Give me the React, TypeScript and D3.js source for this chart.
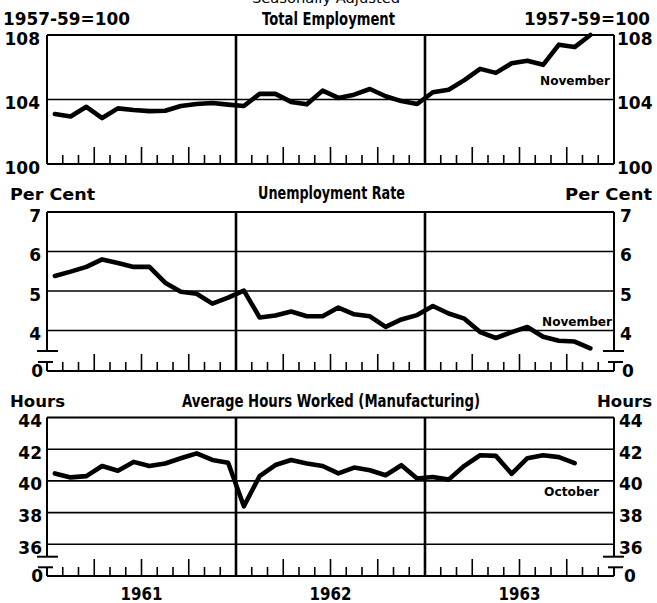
import React from "react";
import * as d3 from "d3";

const years = ["1961", "1962", "1963"];

// Monthly, Jan 1961 - Nov 1963
const employment = [
  103.1, 102.95, 103.55, 102.85, 103.45, 103.35, 103.28, 103.3, 103.6, 103.72, 103.78, 103.68,
  103.6, 104.35, 104.35, 103.85, 103.7, 104.55, 104.1, 104.3, 104.65, 104.2, 103.9, 103.72,
  104.45, 104.6, 105.2, 105.9, 105.65, 106.25, 106.4, 106.15, 107.4, 107.25, 108.0,
];

// Monthly, Jan 1961 - Nov 1963
const unemployment = [
  5.38, 5.49, 5.61, 5.8, 5.71, 5.61, 5.61, 5.21, 4.98, 4.93, 4.68, 4.83,
  5.01, 4.33, 4.38, 4.48, 4.36, 4.36, 4.58, 4.41, 4.36, 4.09, 4.28, 4.39,
  4.62, 4.43, 4.3, 3.96, 3.81, 3.96, 4.09, 3.84, 3.74, 3.72, 3.55,
];

// Monthly, Jan 1961 - Oct 1963
const hours = [
  40.47, 40.22, 40.3, 40.94, 40.64, 41.2, 40.94, 41.1, 41.43, 41.74, 41.32, 41.15,
  38.4, 40.3, 41.0, 41.32, 41.1, 40.94, 40.47, 40.84, 40.67, 40.36, 40.99, 40.15,
  40.25, 40.08, 40.95, 41.62, 41.58, 40.45, 41.43, 41.62, 41.5, 41.12,
];

const employmentTicks = [100, 104, 108];
const unemploymentTicks = [4, 5, 6, 7];
const hoursTicks = [36, 38, 40, 42, 44];

const FONT = "'DejaVu Sans', 'Liberation Sans', sans-serif";
const X0 = 47;
const X1 = 614;
const x = d3.scaleLinear().domain([0, 36]).range([X0, X1]);

type Panel = {
  values: number[];
  ticks: number[];
  y: d3.ScaleLinear<number, number>;
  base: number;
  brk: [number, number] | null;
  unit: string;
  unitY: number;
  unitSize: number;
  unitLeft: [number, number];
  unitRight: [number, number];
  title: string;
  titleX: number;
  titleLen: number;
  titleY: number;
  note: string;
  noteX: number;
  noteLen: number;
  noteY: number;
  labelEnd: number;
  labelStart: number;
  zeroEnd: number;
  zeroStart: number;
};

const panels: Panel[] = [
  {
    values: employment,
    ticks: employmentTicks,
    y: d3.scaleLinear().domain([100, 108]).range([164, 35]),
    base: 164,
    brk: null,
    unit: "1957-59=100",
    unitY: 25,
    unitSize: 17,
    unitLeft: [3, 127],
    unitRight: [524, 126],
    title: "Total Employment",
    titleX: 262,
    titleLen: 133,
    titleY: 25,
    note: "November",
    noteX: 540,
    noteLen: 70,
    noteY: 85,
    labelEnd: 40,
    labelStart: 617,
    zeroEnd: 0,
    zeroStart: 0,
  },
  {
    values: unemployment,
    ticks: unemploymentTicks,
    y: d3.scaleLinear().domain([4, 7]).range([330.5, 212]),
    base: 371,
    brk: [351, 362],
    unit: "Per Cent",
    unitY: 200,
    unitSize: 16,
    unitLeft: [10, 85],
    unitRight: [565, 87],
    title: "Unemployment Rate",
    titleX: 258,
    titleLen: 147,
    titleY: 199,
    note: "November",
    noteX: 542,
    noteLen: 70,
    noteY: 326,
    labelEnd: 41,
    labelStart: 620,
    zeroEnd: 43,
    zeroStart: 622,
  },
  {
    values: hours,
    ticks: hoursTicks,
    y: d3.scaleLinear().domain([36, 44]).range([544.3, 417.5]),
    base: 576,
    brk: [556.7, 567.3],
    unit: "Hours",
    unitY: 407,
    unitSize: 16,
    unitLeft: [10, 55],
    unitRight: [597, 55],
    title: "Average Hours Worked (Manufacturing)",
    titleX: 182,
    titleLen: 298,
    titleY: 407,
    note: "October",
    noteX: 544,
    noteLen: 55,
    noteY: 496,
    labelEnd: 42,
    labelStart: 619,
    zeroEnd: 43,
    zeroStart: 624,
  },
];

function PanelView({ p }: { p: Panel }) {
  const top = p.y(p.ticks[p.ticks.length - 1]);
  const line = d3
    .line<number>()
    .x((_, i) => x(i + 0.5))
    .y((d) => p.y(d))
    .curve(d3.curveLinear);
  const monthTicks = d3.range(1, 36).filter((k) => k % 12 !== 0);
  const sideAxis = (ax: number, dir: number) => {
    if (!p.brk) {
      return <line x1={ax} x2={ax} y1={top} y2={p.base} stroke="#000" strokeWidth={2} />;
    }
    const [b1, b2] = p.brk;
    return (
      <g stroke="#000" strokeWidth={2}>
        <line x1={ax} x2={ax} y1={top} y2={b1} />
        <line x1={ax} x2={ax} y1={b2} y2={p.base} />
        <line x1={ax - 10 * dir} x2={ax + 11 * dir} y1={b1} y2={b1} />
        <line x1={ax - 9 * dir} x2={ax + 6 * dir} y1={b2} y2={b2} />
      </g>
    );
  };
  return (
    <g>
      {p.ticks.map((t) => (
        <line key={"g" + t} x1={X0} x2={X1} y1={p.y(t)} y2={p.y(t)} stroke="#000" strokeWidth={t === p.ticks[p.ticks.length - 1] ? 2 : 1.6} />
      ))}
      <line x1={X0} x2={X1} y1={p.base} y2={p.base} stroke="#000" strokeWidth={2.2} />
      {sideAxis(X0, 1)}
      {sideAxis(X1, -1)}
      {[12, 24].map((m) => (
        <line key={"d" + m} x1={x(m)} x2={x(m)} y1={top} y2={p.base} stroke="#000" strokeWidth={2.6} />
      ))}
      {monthTicks.map((k) => (
        <line key={"t" + k} x1={x(k)} x2={x(k)} y1={p.base} y2={p.base - (k % 3 === 0 ? 17 : 9)} stroke="#000" strokeWidth={1.6} />
      ))}
      <path d={line(p.values) || ""} fill="none" stroke="#000" strokeWidth={4.6} strokeLinejoin="round" strokeLinecap="round" />
      {p.ticks.map((t) => (
        <g key={"l" + t} fontFamily={FONT} fontWeight="bold" fontSize={17} fill="#000">
          <text x={p.labelEnd} y={p.y(t) + 9.5} textAnchor="end">{t}</text>
          <text x={p.labelStart} y={p.y(t) + 9.5} textAnchor="start">{t}</text>
        </g>
      ))}
      {p.brk && (
        <g fontFamily={FONT} fontWeight="bold" fontSize={17} fill="#000">
          <text x={p.zeroEnd} y={p.base + 6} textAnchor="end">0</text>
          <text x={p.zeroStart} y={p.base + 6} textAnchor="start">0</text>
        </g>
      )}
      <text x={p.unitLeft[0]} y={p.unitY} fontFamily={FONT} fontWeight="bold" fontSize={p.unitSize} textLength={p.unitLeft[1]} lengthAdjust="spacingAndGlyphs">{p.unit}</text>
      <text x={p.unitRight[0]} y={p.unitY} fontFamily={FONT} fontWeight="bold" fontSize={p.unitSize} textLength={p.unitRight[1]} lengthAdjust="spacingAndGlyphs">{p.unit}</text>
      <text x={p.titleX} y={p.titleY} fontFamily={FONT} fontWeight="bold" fontSize={18} textLength={p.titleLen} lengthAdjust="spacingAndGlyphs">{p.title}</text>
      <text x={p.noteX} y={p.noteY} fontFamily={FONT} fontWeight="bold" fontSize={11.5} textLength={p.noteLen} lengthAdjust="spacingAndGlyphs">{p.note}</text>
    </g>
  );
}

export default function App() {
  return (
    <div style={{ position: "absolute", left: 0, top: 0 }}>
      <svg width={657} height={603} viewBox="0 0 657 603" style={{ display: "block", background: "#fff" }}>
        <rect x={0} y={0} width={657} height={603} fill="#fff" />
        <text x={252} y={3} fontFamily={FONT} fontSize={14} textLength={148} lengthAdjust="spacingAndGlyphs">Seasonally Adjusted</text>
        {panels.map((p, i) => (
          <PanelView key={i} p={p} />
        ))}
        {years.map((yr, i) => (
          <text key={yr} x={x(i * 12 + 6)} y={600} textAnchor="middle" fontFamily={FONT} fontWeight="bold" fontSize={17} textLength={42} lengthAdjust="spacingAndGlyphs">{yr}</text>
        ))}
      </svg>
    </div>
  );
}
